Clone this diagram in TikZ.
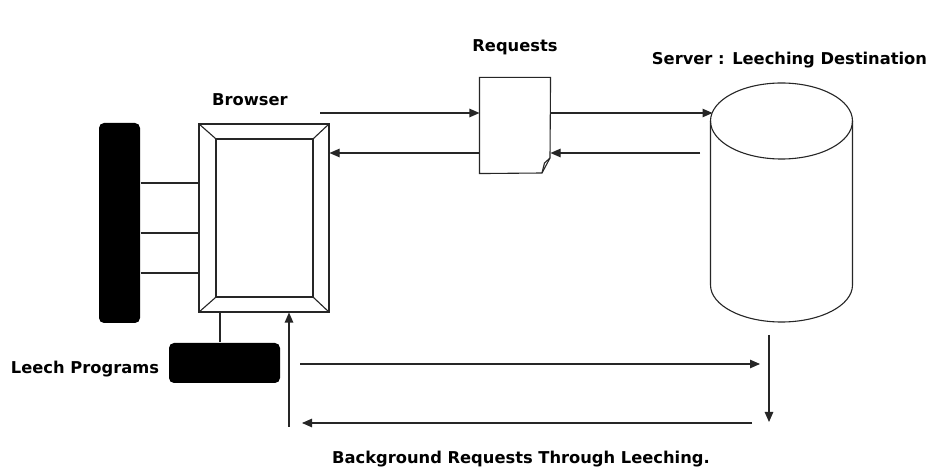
\documentclass[tikz,border=0pt]{standalone}
\usepackage{fontspec}
\setmainfont{DejaVu Sans}
\usetikzlibrary{arrows.meta}
\begin{document}
\begin{tikzpicture}[x=1pt,y=-1pt,
  line width=1.1pt, draw=black!85,
  lbl/.style={font=\bfseries\fontsize{16.3}{19}\selectfont, inner sep=0pt},
  blk/.style={fill=black, draw=none, rounded corners=5pt, inner sep=0pt},
  box/.style={draw=black!85, inner sep=0pt},
  arr/.style={-{Triangle[length=10pt,width=8.5pt]}}
]
\useasboundingbox (0,0) rectangle (930,470);
\fill[white] (0,0) rectangle (930,470);

% left black bar
\node[blk, minimum width=41pt, minimum height=200pt] (bar) at (119.5,223) {};

% browser
\node[box, minimum width=130pt, minimum height=188pt] (browser) at (264,218) {};
\node[box, minimum width=97pt, minimum height=158pt] (screen) at (264.5,218) {};
\draw (browser.north west) -- (screen.north west);
\draw (browser.north east) -- (screen.north east);
\draw (browser.south west) -- (screen.south west);
\draw (browser.south east) -- (screen.south east);
\node[lbl] (browserlbl) at (250,100) {Browser};

% bar to browser lines
\foreach \yy in {183,233,273} {
  \draw (bar.east |- 0,\yy) -- (browser.west |- 0,\yy);
}

% leech programs box
\node[blk, minimum width=111pt, minimum height=40pt] (leech) at (224.5,363) {};
\node[lbl] (leechlbl) at (85,369) {Leech Programs};
\draw (browser.south -| 220,0) -- (leech.north -| 220,0);

% requests document
\node[inner sep=0pt, minimum width=70pt, minimum height=95pt] (req) at (515,125.5) {};
\draw (req.south west) -- (req.north west) -- (req.north east) -- (550,158) -- (542,173) -- cycle;
\draw (550,158) -- (544.5,163) -- (542,173);
\node[lbl] (reqlbl) at (515,47) {Requests};

% server cylinder
\coordinate (srvtop) at (781.5,121);
\coordinate (srvbot) at (781.5,285);
\draw (710.5,121) -- (710.5,285) arc[start angle=180, end angle=360, x radius=71pt, y radius=37pt] -- (852.5,121);
\draw (srvtop) ellipse[x radius=71pt, y radius=38pt];
\node[lbl] (srvlbl) at (789.5,60) {Server : Leeching Destination};

% request arrows
\coordinate (b1) at (320,113);
\coordinate (s1) at (712.5,113);
\coordinate (s2) at (700,153);
\draw[arr] (b1) -- (req.west |- b1);
\draw[arr] (req.east |- b1) -- (s1);
\draw[arr] (s2) -- (req.east |- s2);
\draw[arr] (req.west |- s2) -- (browser.east |- s2);

% background arrows
\coordinate (u0) at (289,427);
\coordinate (r0) at (300,364);
\coordinate (r1) at (760,364);
\coordinate (d0) at (769,335);
\coordinate (d1) at (769,422);
\coordinate (l0) at (752,423);
\coordinate (l1) at (302,423);
\draw[arr] (u0) -- (browser.south -| u0);
\draw[arr] (r0) -- (r1);
\draw[arr] (d0) -- (d1);
\draw[arr] (l0) -- (l1);
\node[lbl] (bglbl) at (521,459) {Background Requests Through Leeching.};
\end{tikzpicture}
\end{document}
